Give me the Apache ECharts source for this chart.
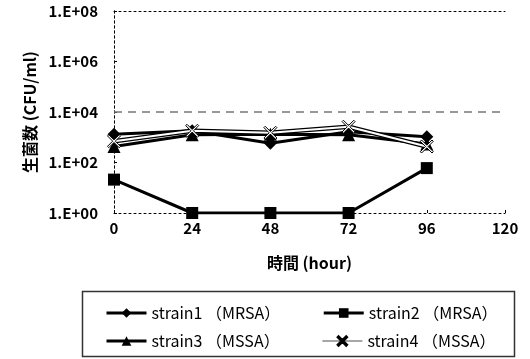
<!DOCTYPE html>
<html>
<head>
<meta charset="utf-8">
<script src="https://cdn.jsdelivr.net/npm/echarts@6/dist/echarts.min.js"></script>
<style>
  html, body { margin: 0; padding: 0; background: #fff; }
  #chart { width: 530px; height: 359px; }
</style>
</head>
<body>
<div id="chart"></div>
<script>
// hours after inoculation
const hours = [0, 24, 48, 72, 96];
// viable count (CFU/ml)
const strain1 = [1300, 1800, 580, 1650, 1050];
const strain2 = [21, 1, 1, 1, 60];
const strain3 = [430, 1250, 1300, 1250, 540];
const strain4 = [700, 1800, 1500, 2600, 430];
const names = ['strain1 （MRSA）', 'strain2 （MRSA）', 'strain3 （MSSA）', 'strain4 （MSSA）'];
const refLine = 1e4;

const font = '"Noto Sans CJK JP", sans-serif';
const pair = (arr) => hours.map((h, i) => [h, arr[i]]);
const xMark = 'path://M1,0 L5,4 L9,0 L10,1 L6,5 L10,9 L9,10 L5,6 L1,10 L0,9 L4,5 L0,1 Z';

const chart = echarts.init(document.getElementById('chart'), null, { renderer: 'canvas' });

const dotted = { color: '#000', width: 1, type: [2, 3] };
const legendText = { fontFamily: font, fontSize: 16, color: '#000' };
const thick = { color: '#000', width: 3 };

const option = {
    animation: false,
    textStyle: { fontFamily: font },
    grid: { left: 114, right: 25, top: 11, bottom: 146 },
    legend: [
        {
            data: [{ name: names[0], lineStyle: thick }, { name: names[1], lineStyle: thick }],
            left: 100, top: 300,
            itemWidth: 40, itemHeight: 12, itemGap: 42,
            textStyle: legendText,
        },
        {
            data: [{ name: names[2], lineStyle: thick }, { name: names[3], lineStyle: { color: '#888', width: 1.5 } }],
            left: 100, top: 328,
            itemWidth: 40, itemHeight: 12, itemGap: 42,
            textStyle: legendText,
        },
    ],
    graphic: [{
        type: 'rect', left: 80, top: 289,
        shape: { width: 432, height: 65 },
        style: { fill: 'none', stroke: '#333', lineWidth: 1.5 },
    }],
    xAxis: [
        {
            type: 'value', min: 0, max: 120, interval: 24,
            name: '時間 (hour)', nameLocation: 'middle', nameGap: 42,
            nameTextStyle: { fontFamily: font, fontSize: 16, fontWeight: 'bold', color: '#000' },
            axisLine: { lineStyle: dotted },
            axisTick: { inside: true, length: 3, lineStyle: { color: '#000' } },
            axisLabel: { fontFamily: font, fontSize: 15, fontWeight: 'bold', color: '#000', margin: 8 },
            splitLine: { show: false },
        },
        {
            type: 'value', min: 0, max: 120, position: 'top',
            axisLine: { show: true, lineStyle: dotted },
            axisTick: { show: false }, axisLabel: { show: false }, splitLine: { show: false },
        },
    ],
    yAxis: [
        {
            type: 'log', logBase: 10, min: 1, max: 1e8, interval: 2,
            name: '生菌数 (CFU/ml)', nameLocation: 'middle', nameGap: 76, nameRotate: 90,
            nameTextStyle: { fontFamily: font, fontSize: 16, fontWeight: 'bold', color: '#000' },
            axisLine: { show: true, lineStyle: dotted },
            axisTick: { inside: true, length: 3, lineStyle: { color: '#000' } },
            axisLabel: {
                fontFamily: font, fontSize: 15, fontWeight: 'bold', color: '#000', margin: 16,
                formatter: (v) => {
                    const e = Math.round(Math.log10(v));
                    return '1.E+' + (e < 10 ? '0' : '') + e;
                },
            },
            splitLine: { show: false },
        },
        {
            type: 'log', logBase: 10, min: 1, max: 1e8, position: 'right',
            axisLine: { show: true, lineStyle: dotted },
            axisTick: { show: false }, axisLabel: { show: false }, splitLine: { show: false },
        },
    ],
    series: [
        {
            name: names[0], type: 'line', data: pair(strain1), z: 5,
            symbol: 'diamond', symbolSize: 13,
            lineStyle: { color: '#000', width: 3 }, itemStyle: { color: '#000' },
            markLine: {
                silent: true, symbol: 'none', label: { show: false },
                lineStyle: { color: '#777', width: 1.5, type: [8, 6] },
                data: [{ yAxis: refLine }],
            },
        },
        {
            name: names[1], type: 'line', data: pair(strain2), z: 5,
            symbol: 'rect', symbolSize: 12,
            lineStyle: { color: '#000', width: 3 }, itemStyle: { color: '#000' },
        },
        {
            name: names[2], type: 'line', data: pair(strain3), z: 4,
            symbol: 'triangle', symbolSize: 13,
            lineStyle: { color: '#000', width: 3 }, itemStyle: { color: '#000' },
        },
        {
            // dark outline under the white strain4 line
            name: 'strain4-outline', type: 'line', data: pair(strain4), z: 3,
            symbol: 'none', silent: true,
            lineStyle: { color: '#000', width: 4.5 },
        },
        {
            name: names[3], type: 'line', data: pair(strain4), z: 6,
            symbol: xMark, symbolSize: 13,
            lineStyle: { color: '#fff', width: 2 },
            itemStyle: { color: '#fff', borderColor: '#000', borderWidth: 1 },
        },
    ],
};

chart.setOption(option);
</script>
</body>
</html>
